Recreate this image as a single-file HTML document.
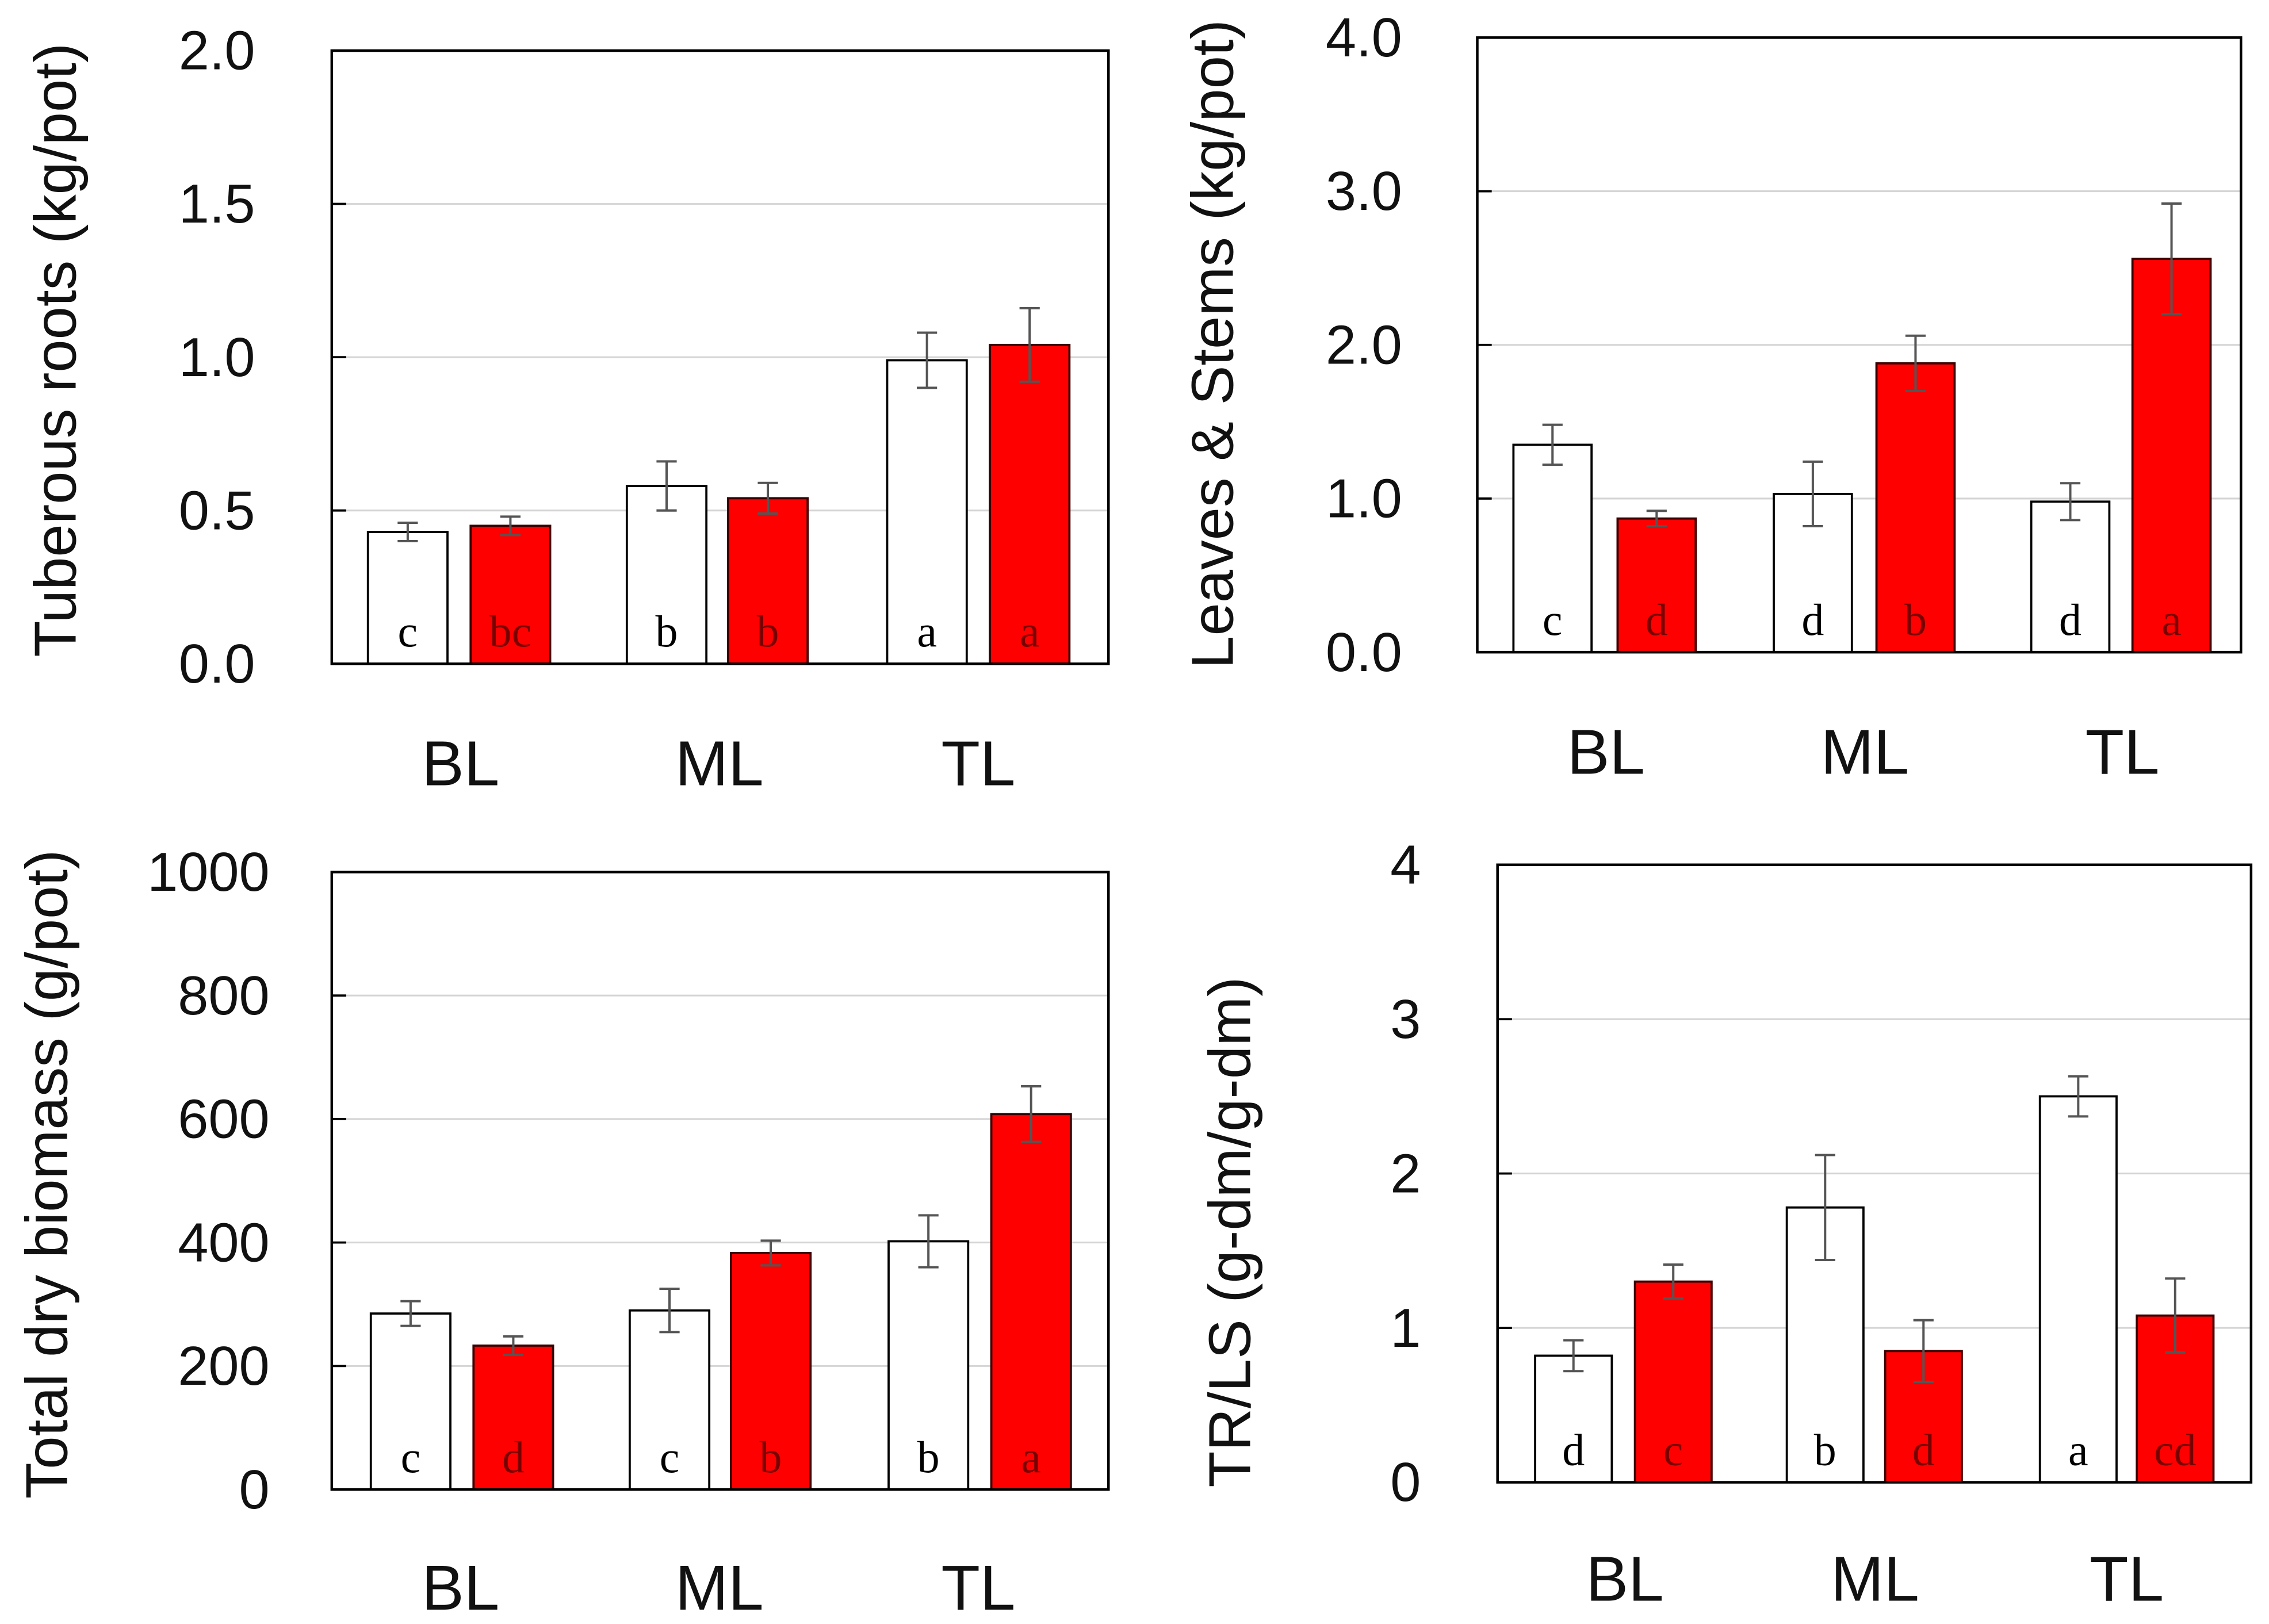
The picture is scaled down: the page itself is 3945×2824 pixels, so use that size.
<!DOCTYPE html>
<html><head><meta charset="utf-8">
<style>
html,body{margin:0;padding:0;background:#fff;}
svg{display:block;}
</style></head>
<body>
<svg id="fig" width="3945" height="2824" viewBox="0 0 1568 1123" xmlns="http://www.w3.org/2000/svg" font-family="Liberation Sans, DejaVu Sans, sans-serif"></svg>
<script>
const categories = ["BL","ML","TL"];
// Panel A: Tuberous roots
const aWhite = [0.43, 0.58, 0.99];
const aRed = [0.45, 0.54, 1.04];
const aWhiteErr = [0.03, 0.08, 0.09];
const aRedErr = [0.03, 0.05, 0.12];
const aWhiteLetters = ["c","b","a"];
const aRedLetters = ["bc","b","a"];
const aTicks = ["0.0","0.5","1.0","1.5","2.0"];
const aTickVals = [0,0.5,1,1.5,2];
// Panel B: Leaves & Stems
const bWhite = [1.35, 1.03, 0.98];
const bRed = [0.87, 1.88, 2.56];
const bWhiteErr = [0.13, 0.21, 0.12];
const bRedErr = [0.05, 0.18, 0.36];
const bWhiteLetters = ["c","d","d"];
const bRedLetters = ["d","b","a"];
const bTicks = ["0.0","1.0","2.0","3.0","4.0"];
const bTickVals = [0,1,2,3,4];
// Panel C: Total dry biomass
const cWhite = [285, 290, 402];
const cRed = [233, 383, 608];
const cWhiteErr = [20, 35, 42];
const cRedErr = [15, 20, 45];
const cWhiteLetters = ["c","c","b"];
const cRedLetters = ["d","b","a"];
const cTicks = ["0","200","400","600","800","1000"];
const cTickVals = [0,200,400,600,800,1000];
// Panel D: TR/LS
const dWhite = [0.82, 1.78, 2.50];
const dRed = [1.30, 0.85, 1.08];
const dWhiteErr = [0.10, 0.34, 0.13];
const dRedErr = [0.11, 0.20, 0.24];
const dWhiteLetters = ["d","b","a"];
const dRedLetters = ["c","d","cd"];
const dTicks = ["0","1","2","3","4"];
const dTickVals = [0,1,2,3,4];

const NS = "http://www.w3.org/2000/svg";
const svg = document.getElementById('fig');
function mk(tag, attrs, parent){
  const e = document.createElementNS(NS, tag);
  for (const k in attrs) e.setAttribute(k, attrs[k]);
  (parent||svg).appendChild(e);
  return e;
}

function panel(cfg){
  const g = mk('g', {});
  
  
  const {x0,x1,y0,y1,max} = cfg;
  const yS = v => y1 - (v/max)*(y1-y0);
  cfg.tickVals.forEach((v,i)=>{
    const y = yS(v);
    if (v>0 && v<max){
      const gl = mk('line',{x1:x0,x2:x1,y1:y,y2:y,stroke:'#d4d4d4','stroke-width':1.2},g);
      
      
      const tk = mk('line',{x1:x0,x2:x0+10,y1:y,y2:y,stroke:'#000','stroke-width':1.5},g);
      
      
    }
    const t = mk('text',{x:cfg.tickX,y:y+13,'text-anchor':'end','font-size':38,fill:'#111'},g);
    t.textContent = cfg.ticks[i];
    
    
  });
  const series = [[cfg.white,cfg.whiteErr,cfg.whiteL,'#fff','#000',cfg.wx],[cfg.red,cfg.redErr,cfg.redL,'#ff0000','#8a0000',cfg.rx]];
  series.forEach((s,si)=>{
    s[0].forEach((v,i)=>{
      const bx = s[5][i], bw = cfg.bw;
      const r = mk('rect',{x:bx,y:yS(v),width:bw,height:y1-yS(v),fill:s[3],stroke:si?'#3a0000':'#000','stroke-width':1.5},g);
      
      
      const cx = bx + bw/2;
      const e = s[1][i];
      const eg = mk('g',{stroke:'#555','stroke-width':1.6},g);
      
      
      mk('line',{x1:cx,x2:cx,y1:yS(v+e),y2:yS(v-e)},eg);
      mk('line',{x1:cx-7,x2:cx+7,y1:yS(v+e),y2:yS(v+e)},eg);
      mk('line',{x1:cx-7,x2:cx+7,y1:yS(v-e),y2:yS(v-e)},eg);
      const lt = mk('text',{x:cx,y:y1-12,'text-anchor':'middle','font-size':31,'font-family':'Liberation Serif, serif',fill:si?'#7a0000':'#000'},g);
      lt.textContent = s[2][i];
      
      
    });
  });
  const box = mk('rect',{x:x0,y:y0,width:x1-x0,height:y1-y0,fill:'none',stroke:'#000','stroke-width':1.8},g);
  
  
  categories.forEach((c,i)=>{
    const t = mk('text',{x:cfg.catX[i],y:cfg.catY,'text-anchor':'middle','font-size':44,fill:'#111'},g);
    t.textContent = c;
    
    
  });
  const tt = mk('text',{x:0,y:0,'text-anchor':'middle','font-size':41,fill:'#111',transform:`translate(${cfg.titleX},${cfg.titleY}) rotate(-90)`,'xml:space':'preserve'},g);
  tt.textContent = cfg.title;
  
  
}

panel({name:'tuberous-roots-chart',x0:229,x1:766,y0:35,y1:459,max:2,ticks:aTicks,tickVals:aTickVals,tickX:176,
  white:aWhite,red:aRed,whiteErr:aWhiteErr,redErr:aRedErr,whiteL:aWhiteLetters,redL:aRedLetters,
  wx:[254,433,613],rx:[325,503,684],bw:55,catX:[318,497,676],catY:543,title:'Tuberous roots (kg/pot)',titleX:52,titleY:242});
panel({name:'leaves-stems-chart',x0:1021,x1:1549,y0:26,y1:451,max:4,ticks:bTicks,tickVals:bTickVals,tickX:969,
  white:bWhite,red:bRed,whiteErr:bWhiteErr,redErr:bRedErr,whiteL:bWhiteLetters,redL:bRedLetters,
  wx:[1046,1226,1404],rx:[1118,1297,1474],bw:54,catX:[1110,1289,1467],catY:535,title:'Leaves & Stems (kg/pot)',titleX:852,titleY:238});
panel({name:'total-biomass-chart',x0:229,x1:766,y0:603,y1:1030,max:1000,ticks:cTicks,tickVals:cTickVals,tickX:186,
  white:cWhite,red:cRed,whiteErr:cWhiteErr,redErr:cRedErr,whiteL:cWhiteLetters,redL:cRedLetters,
  wx:[256,435,614],rx:[327,505,685],bw:55,catX:[318,497,676],catY:1113,title:'Total dry biomass (g/pot)',titleX:46,titleY:812});
panel({name:'tr-ls-ratio-chart',x0:1035,x1:1556,y0:598,y1:1025,max:4,ticks:dTicks,tickVals:dTickVals,tickX:982,
  white:dWhite,red:dRed,whiteErr:dWhiteErr,redErr:dRedErr,whiteL:dWhiteLetters,redL:dRedLetters,
  wx:[1061,1235,1410],rx:[1130,1303,1477],bw:53,catX:[1123,1296,1470],catY:1107,title:'TR/LS   (g-dm/g-dm)',titleX:864,titleY:852});
</script>
</body></html>
